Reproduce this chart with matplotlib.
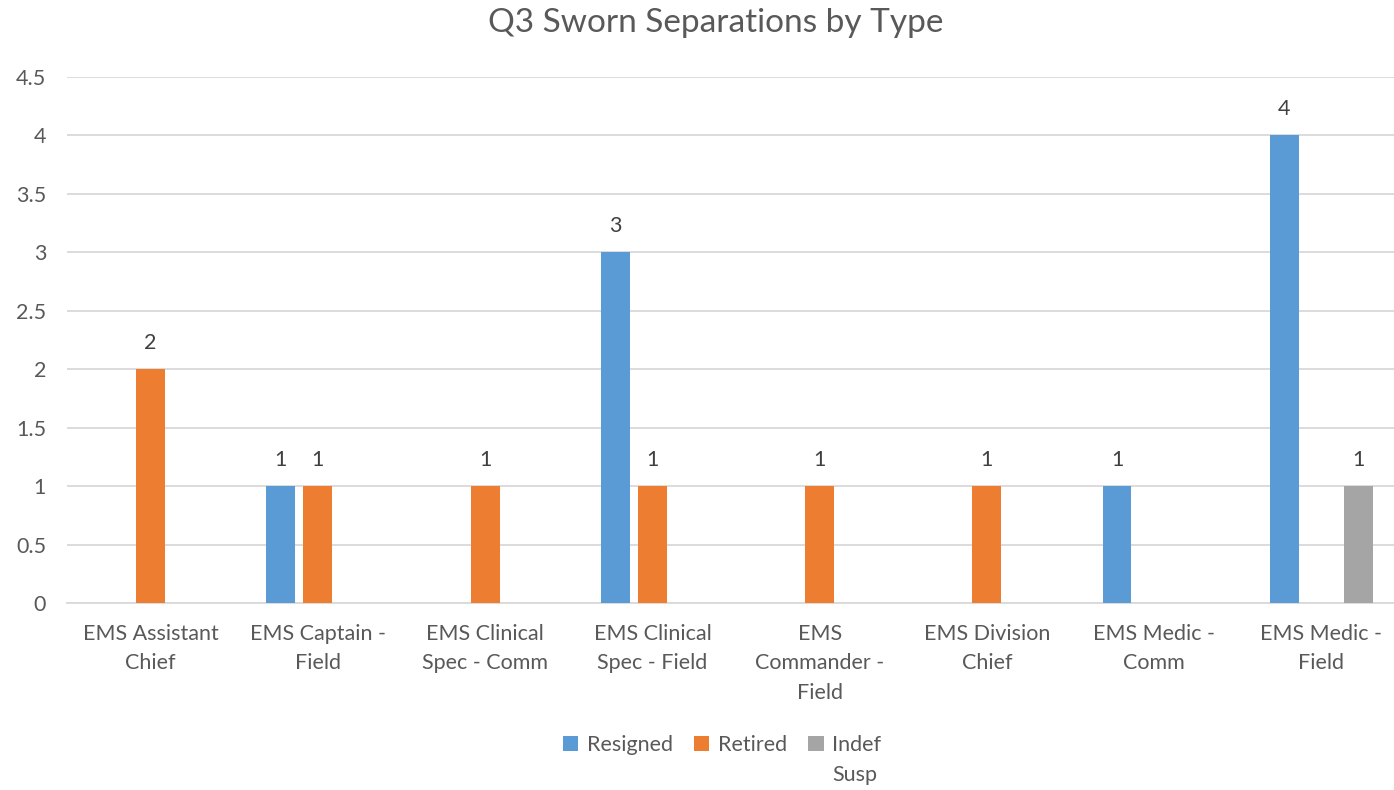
import matplotlib
matplotlib.use("Agg")
import matplotlib.pyplot as plt
import numpy as np

categories = ["EMS Assistant\nChief", "EMS Captain -\nField", "EMS Clinical\nSpec - Comm",
              "EMS Clinical\nSpec - Field", "EMS\nCommander -\nField", "EMS Division\nChief",
              "EMS Medic -\nComm", "EMS Medic -\nField"]
series_names = ["Resigned", "Retired", "Indef\nSusp"]
resigned = [None, 1, None, 3, None, None, 1, 4]
retired = [2, 1, 1, 1, 1, 1, None, None]
indef_susp = [None, None, None, None, None, None, None, 1]
colors = ["#5B9BD5", "#ED7D31", "#A5A5A5"]
yticks = [0, 0.5, 1, 1.5, 2, 2.5, 3, 3.5, 4, 4.5]
title = "Q3 Sworn Separations by Type"

plt.rcParams['font.family'] = ['Lato', 'DejaVu Sans']
txt = "#595959"
fs = 15.5

W, H = 1394, 790
fig = plt.figure(figsize=(W / 100, H / 100), dpi=100)
left_px, right_px, bottom_px, top_px = 67, 1405, 603, 77
ax = fig.add_axes([left_px / W, (H - bottom_px) / H, (right_px - left_px) / W, (bottom_px - top_px) / H])

x = np.arange(len(categories))
step = 0.222
width = 0.172
all_series = [resigned, retired, indef_susp]
for i, (vals, name, c) in enumerate(zip(all_series, series_names, colors)):
    xs = [xx + (i - 1) * step for xx, v in zip(x, vals) if v is not None]
    vs = [v for v in vals if v is not None]
    bars = ax.bar(xs, vs, width=width, color=c, label=name.split("\n")[0], zorder=3)
    for b, v in zip(bars, vs):
        ax.annotate(f"{v:g}", (b.get_x() + b.get_width() / 2, v), xytext=(0, 19),
                    textcoords="offset points", ha="center", va="center",
                    fontsize=fs, color="#404040")

ax.set_xlim(-0.5, len(categories) - 0.5)
ax.set_ylim(0, 4.5)
ax.set_yticks(yticks)
ax.set_yticklabels([f"{t:g}" for t in yticks], fontsize=fs, color=txt)
ax.set_xticks(x)
ax.set_xticklabels(categories, fontsize=fs, color=txt, linespacing=1.6, va="top")
ax.tick_params(axis="both", length=0)
ax.tick_params(axis="y", pad=15)
ax.tick_params(axis="x", pad=15)
ax.grid(axis="y", color="#D9D9D9", linewidth=1.3, zorder=0)
for s in ["top", "right", "left"]:
    ax.spines[s].set_visible(False)
ax.spines["bottom"].set_color("#D9D9D9")
ax.spines["bottom"].set_linewidth(1.3)
ax.spines["bottom"].set_zorder(2)

fig.text(716 / W, 1 - 23 / H, title, ha="center", va="center", fontsize=24, color=txt)

leg = fig.legend(loc="center", bbox_to_anchor=(722 / W, 1 - 745 / H), ncol=3, frameon=False,
                 fontsize=fs, handlelength=0.7, handleheight=0.7, handletextpad=0.4,
                 columnspacing=1.0, labelcolor=txt)

# second line of the wrapped legend label
fig.canvas.draw()
ltext = leg.get_texts()[-1]
bb = ltext.get_window_extent(fig.canvas.get_renderer())
fig.text(bb.x0 / W, (bb.y0 + bb.y1) / 2 / H - 30 / H, series_names[-1].split("\n")[1],
         ha="left", va="center", fontsize=fs, color=txt)

fig.savefig("out.png", dpi=100, facecolor="white")
